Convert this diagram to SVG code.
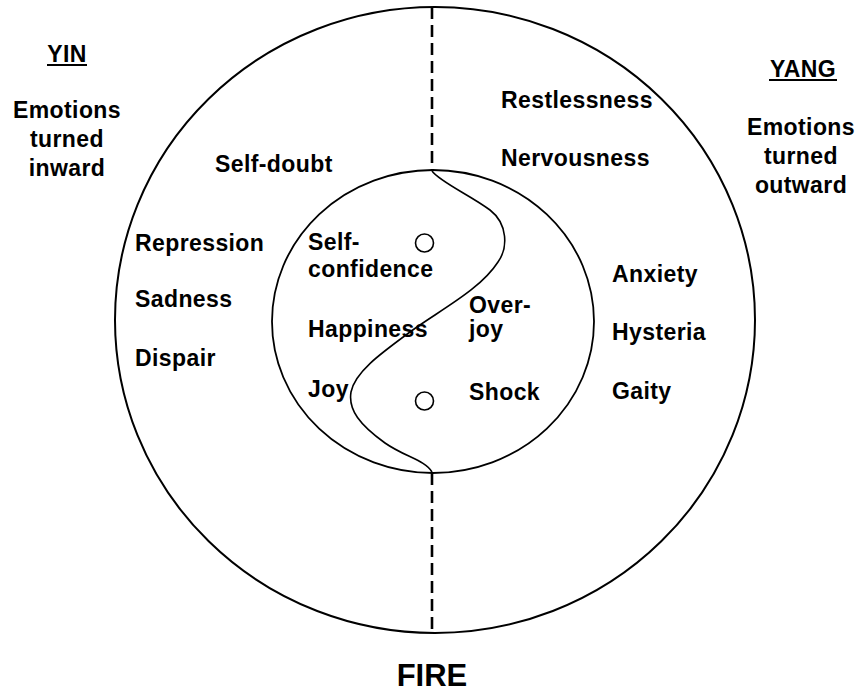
<svg xmlns="http://www.w3.org/2000/svg" width="858" height="694" viewBox="0 0 858 694">
<style>
text{font-family:"Liberation Sans",Arial,sans-serif;font-weight:bold;font-size:23px;letter-spacing:0.4px;fill:#000}
.c{text-anchor:middle}
.ln{fill:none;stroke:#000}
</style>
<rect width="858" height="694" fill="#fff"/>
<g id="outer-circle"><ellipse class="ln" cx="435" cy="320" rx="320" ry="313" stroke-width="2"/></g>
<g id="connectors">
<line class="ln" x1="432" y1="7" x2="432" y2="171" stroke-width="2.6" stroke-dasharray="12 6"/>
<line class="ln" x1="432" y1="473" x2="432" y2="633" stroke-width="2.6" stroke-dasharray="12 6"/>
</g>
<g id="inner-circle"><ellipse class="ln" cx="433" cy="321.5" rx="161" ry="151.5" stroke-width="1.8"/></g>
<g id="s-curve"><path class="ln" stroke-width="1.6" d="M432 171 C440 182 470 195 490 210 C508 224 508 248 498 262 C480 290 440 310 410 332 C380 354 355 372 351 392 C348 410 360 425 385 443 C405 457 425 460 432 472"/></g>
<g id="dots">
<circle class="ln" cx="424.5" cy="243" r="9" stroke-width="1.6"/>
<circle class="ln" cx="424.5" cy="401" r="9" stroke-width="1.6"/>
</g>
<g id="yin">
<text class="c" x="67" y="62">YIN</text>
<line class="ln" x1="47" y1="65" x2="87" y2="65" stroke-width="2"/>
<text class="c" x="67" y="118">Emotions</text>
<text class="c" x="67" y="147">turned</text>
<text class="c" x="67" y="176">inward</text>
</g>
<g id="yang">
<text class="c" x="803" y="77">YANG</text>
<line class="ln" x1="769" y1="80" x2="837" y2="80" stroke-width="2"/>
<text class="c" x="801" y="135">Emotions</text>
<text class="c" x="801" y="164">turned</text>
<text class="c" x="801" y="193">outward</text>
</g>
<g id="yin-emotions">
<text x="215" y="172">Self-doubt</text>
<text x="135" y="251">Repression</text>
<text x="135" y="307">Sadness</text>
<text x="135" y="366">Dispair</text>
</g>
<g id="yang-emotions">
<text x="501" y="108">Restlessness</text>
<text x="501" y="166">Nervousness</text>
<text x="612" y="282">Anxiety</text>
<text x="612" y="340">Hysteria</text>
<text x="612" y="399">Gaity</text>
</g>
<g id="inner-yin">
<text x="308" y="250">Self-</text>
<text x="308" y="277">confidence</text>
<text x="308" y="337">Happiness</text>
<text x="308" y="397">Joy</text>
</g>
<g id="inner-yang">
<text x="469" y="313">Over-</text>
<text x="469" y="337">joy</text>
<text x="469" y="400">Shock</text>
</g>
<g id="title"><text class="c" x="432" y="686" style="font-size:31px;letter-spacing:0">FIRE</text></g>
</svg>
